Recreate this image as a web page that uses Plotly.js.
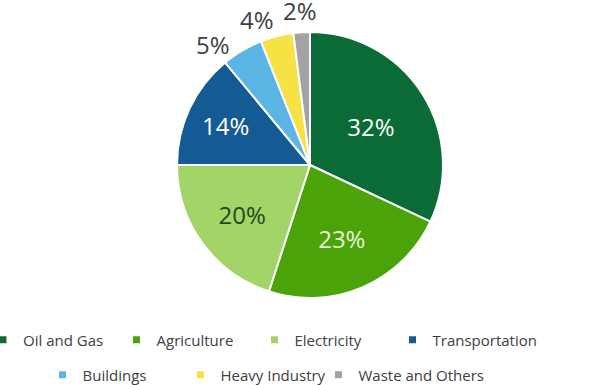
<!DOCTYPE html>
<html><head><meta charset="utf-8">
<script src="https://cdn.plot.ly/plotly-3.0.1.min.js"></script>
<style>html,body{margin:0;padding:0;background:#fff}#c{width:600px;height:385px}</style>
</head><body><div id="c"></div>
<script>
const categories = ["Oil and Gas","Agriculture","Electricity","Transportation","Buildings","Heavy Industry","Waste and Others"];
const values = [32,23,20,14,5,4,2];
const labelsText = ["32%","23%","20%","14%","5%","4%","2%"];
const colors = ["#0b6b36","#4ba30a","#a2d467","#145a94","#5ab5e4","#f7e245","#a3a3a6"];
const textColors = ["#ffffff","#e9f5d6","#1d4a1f","#ffffff","#404040","#404040","#404040"];
const outsideSlices = [false,false,false,false,true,true,true];

// ---- layout geometry (pixels)
const W = 600, H = 385, MB = 50;          // bottom margin keeps legends below the plot area
const PH = H - MB;
const CX = 310, CY = 165, R = 133;
const FONT = "Open Sans, sans-serif";
const LABEL_SIZE = 24;
const px2x = px => px / W;
const py2y = py => 1 - py / PH;
// legend entry layout: left edge (px) and row centre (px) of each entry
const legendLeft = [-17, 116.5, 254.5, 392.5, 42.5, 180.5, 318.5];
const legendRowY = [340, 340, 340, 340, 375, 375, 375];

const textPos = outsideSlices.map(o => o ? "none" : "inside");

// ---- outside labels: radial placement from slice mid-angles, spread to avoid overlap
const ctx = document.createElement("canvas").getContext("2d");
ctx.font = LABEL_SIZE + "px 'Open Sans'";
const total = values.reduce((a, b) => a + b, 0);
const outs = [];
let cum = 0;
values.forEach((v, i) => {
  const mid = 2 * Math.PI * (cum + v / 2) / total;
  cum += v;
  if (outsideSlices[i]) outs.push({i, ang: mid, w: ctx.measureText(labelsText[i]).width});
});
const LR = R + 20, GAP = 10;
outs.sort((a, b) => b.ang - a.ang);
let prevLeft = null;
outs.forEach(o => {
  let cx = CX + LR * Math.sin(o.ang);
  if (prevLeft !== null && cx + o.w / 2 > prevLeft - GAP) {
    const target = prevLeft - GAP - o.w / 2;
    const s = Math.max(-1, Math.min(1, (target - CX) / LR));
    o.ang = 2 * Math.PI + Math.asin(s);
  }
  o.cx = CX + LR * Math.sin(o.ang);
  o.cy = CY - LR * Math.cos(o.ang);
  prevLeft = o.cx - o.w / 2;
});
const annotations = outs.map(o => ({
  xref: "paper", yref: "paper",
  x: px2x(o.cx), y: py2y(o.cy - 2),
  xanchor: "center", yanchor: "middle",
  text: labelsText[o.i], showarrow: false,
  font: {family: FONT, size: LABEL_SIZE, color: textColors[o.i]}
}));

const traces = [{
  type: "pie",
  labels: categories,
  values: values,
  text: labelsText,
  textinfo: "text",
  textposition: textPos,
  insidetextorientation: "horizontal",
  sort: false,
  direction: "clockwise",
  rotation: 0,
  showlegend: false,
  marker: {colors: colors, line: {color: "#ffffff", width: 2}},
  textfont: {family: FONT, size: LABEL_SIZE, color: textColors},
  domain: {x: [px2x(CX - R), px2x(CX + R)], y: [py2y(CY + R), py2y(CY - R)]},
  hoverinfo: "label+percent"
}];

const layout = {
  width: W, height: H,
  margin: {l: 0, r: 0, t: 0, b: MB, autoexpand: false},
  paper_bgcolor: "#ffffff", plot_bgcolor: "#ffffff",
  xaxis: {visible: false}, yaxis: {visible: false},
  showlegend: true,
  annotations: annotations
};

categories.forEach((c, i) => {
  const key = i === 0 ? "legend" : "legend" + (i + 1);
  traces.push({
    type: "scatter", mode: "markers", x: [null], y: [null],
    name: c, showlegend: true, hoverinfo: "skip",
    legend: key,
    marker: {symbol: "square", size: 7, color: colors[i]}
  });
  layout[key] = {
    orientation: "h", yanchor: "middle", xanchor: "left",
    x: px2x(legendLeft[i]), y: py2y(legendRowY[i]),
    font: {family: FONT, size: 15, color: "#404040"},
    bgcolor: "rgba(0,0,0,0)"
  };
});

Plotly.newPlot("c", traces, layout, {displayModeBar: false});
</script></body></html>
